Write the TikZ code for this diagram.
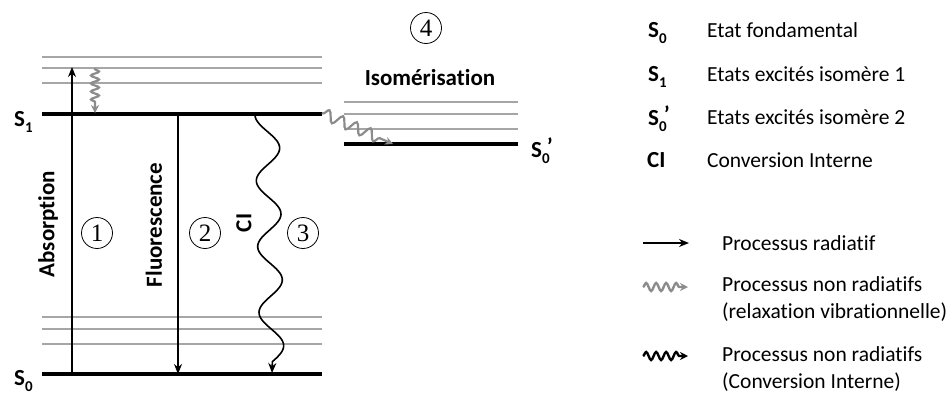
\documentclass[tikz,border=0pt]{standalone}
\usepackage{fontspec}
\setmainfont{Carlito}[Ligatures=NoCommon]
\newfontfamily\numfont{Liberation Serif}
\usetikzlibrary{arrows.meta,decorations.pathmorphing}

\definecolor{lvlgray}{HTML}{A6A6A6}
\definecolor{wavegray}{HTML}{8C8C8C}

% state symbol with a dropped subscript, e.g. S_0'
\newcommand{\stsym}[3]{\textbf{#1}\raisebox{-0.6ex}{\fontsize{15}{15}\selectfont\bfseries #2}\kern-0.12em\raisebox{0.2ex}{\bfseries #3}}

\tikzset{
  lvl/.style={line width=3.5pt, black},
  sublvl/.style={line width=2pt, lvlgray},
  radiative/.style={line width=1.6pt, -{Stealth[length=10pt,width=8pt]}},
  vibrel/.style={line width=2.2pt, wavegray, -{Stealth[length=8pt,width=8pt]},
    decorate, decoration={snake, amplitude=4pt, segment length=8pt, pre length=1pt, post length=8pt}},
  ciwave/.style={line width=1.6pt, -{Stealth[length=10pt,width=8pt]}},
  num/.style={draw, circle, line width=0.8pt, minimum size=31pt, inner sep=0pt, font=\numfont\fontsize{25}{25}\selectfont},
  symlab/.style={font=\fontsize{23}{26}\selectfont},
  blab/.style={font=\bfseries\fontsize{23}{26}\selectfont},
  legtxt/.style={font=\fontsize{21.5}{26.5}\selectfont, anchor=west, align=left, inner sep=0pt},
  legwave/.style={line width=2.4pt, -{Stealth[length=8pt,width=8pt]},
    decorate, decoration={snake, amplitude=4pt, segment length=10pt, post length=8pt}}
}

\begin{document}
\begin{tikzpicture}[x=1pt, y=-1pt]
\useasboundingbox (0,0) rectangle (948,392);

% ---- isomer 1 levels ----
\foreach \yy in {57,68,83,317,329,344}
  \draw[sublvl] (42,\yy) -- (322,\yy);
\coordinate (s1l) at (42,114);
\coordinate (s1r) at (322,114);
\coordinate (s0l) at (42,374);
\coordinate (s0r) at (322,374);
\draw[lvl] (s1l) -- (s1r);
\draw[lvl] (s0l) -- (s0r);

% ---- isomer 2 levels ----
\foreach \yy in {102,114,129}
  \draw[sublvl] (344,\yy) -- (518,\yy);
\coordinate (s0pl) at (344,144);
\coordinate (s0pr) at (518,144);
\draw[lvl] (s0pl) -- (s0pr);

% ---- state labels ----
\node[symlab] (lS1) at (22,122) {\stsym{S}{1}{}};
\node[symlab] (lS0) at (22,381) {\stsym{S}{0}{}};
\node[symlab, anchor=west, inner sep=0pt] (lS0p) at (531,151) {\stsym{S}{0}{’}};

% ---- processes ----
\coordinate (absB) at (72,374);
\coordinate (absT) at (72,67);
\draw[radiative] (absB) -- (absT);
\coordinate (fluT) at (178,114);
\coordinate (fluB) at (178,374);
\draw[radiative] (fluT) -- (fluB);

\coordinate (vrT) at (95,68);
\coordinate (vrB) at (95,113);
\draw[vibrel] (vrT) -- (vrB);

\coordinate (isoA) at (322,113);
\coordinate (isoB) at (393,144);
\draw[vibrel, decoration={snake, amplitude=5.5pt, segment length=15pt, post length=9pt}] (isoA) -- (isoB);

% internal conversion: sinuous path from S1 down to S0
\draw[ciwave] plot[samples=120, domain=0:1, variable=\t, smooth]
  ({267+5*\t-12*cos(1350*\t)}, {115+247*\t}) -- (272,373);

% ---- process labels ----
\node[blab, rotate=90] (tAbs) at (48,224) {Absorption};
\node[blab, rotate=90] (tFlu) at (154,225) {Fluorescence};
\node[blab, rotate=90] (tCI) at (244,223) {CI};
\node[blab] (tIso) at (430,78) {Isomérisation};

\node[num] (n1) at (97,233) {1};
\node[num] (n2) at (205,233) {2};
\node[num] (n3) at (303,233) {3};
\node[num] (n4) at (426,28) {4};

% ---- legend ----
\node[symlab, anchor=west, inner sep=0pt] (k1) at (648,33) {\stsym{S}{0}{}};
\node[symlab, anchor=west, inner sep=0pt] (k2) at (648,77) {\stsym{S}{1}{}};
\node[symlab, anchor=west, inner sep=0pt] (k3) at (648,119) {\stsym{S}{0}{’}};
\node[blab, anchor=west, inner sep=0pt] (k4) at (647,160) {CI};
\node[legtxt] (d1) at (707,30) {Etat fondamental};
\node[legtxt] (d2) at (707,74) {Etats excités isomère 1};
\node[legtxt] (d3) at (707,117) {Etats excités isomère 2};
\node[legtxt] (d4) at (707,160) {Conversion Interne};

\coordinate (ra) at (643,243);
\coordinate (rb) at (689,243);
\draw[radiative] (ra) -- (rb);
\node[legtxt] (d5) at (722,243) {Processus radiatif};

\coordinate (ga) at (643,287);
\coordinate (gb) at (688,287);
\draw[legwave, wavegray] (ga) -- (gb);
\node[legtxt] (d6) at (722,299) {Processus non radiatifs\\(relaxation vibrationnelle)};

\coordinate (ka) at (643,356);
\coordinate (kb) at (688,356);
\draw[legwave, black] (ka) -- (kb);
\node[legtxt] (d7) at (722,369) {Processus non radiatifs\\(Conversion Interne)};
\end{tikzpicture}
\end{document}
